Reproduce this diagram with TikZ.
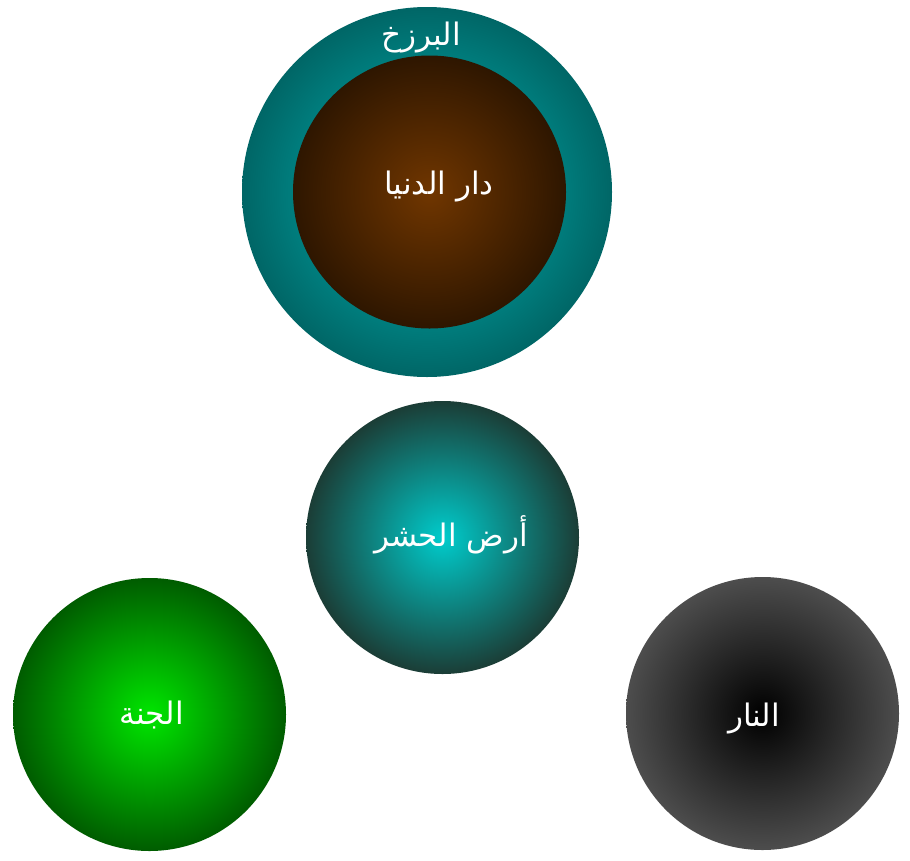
\documentclass[tikz,border=0pt]{standalone}
\usepackage{fontspec}
\newfontfamily\arabicfont[Script=Arabic]{DejaVu Sans}
\TeXXeTstate=1
\definecolor{tealin}{HTML}{00BABA}
\definecolor{tealout}{HTML}{006666}
\definecolor{brownin}{HTML}{703600}
\definecolor{brownout}{HTML}{2E1600}
\definecolor{hashrin}{HTML}{00CCCC}
\definecolor{hashrout}{HTML}{1B3D36}
\definecolor{greenin}{HTML}{00E600}
\definecolor{greenout}{HTML}{005C00}
\definecolor{firein}{HTML}{000000}
\definecolor{fireout}{HTML}{4D4D4D}
\tikzset{
  ball/.style={circle, draw=none, minimum size=273pt, inner sep=0pt},
  lbl/.style={text=white, font=\arabicfont\fontsize{31}{36}\selectfont, inner sep=0pt}
}
\begin{document}
\begin{tikzpicture}[x=1pt,y=-1pt]
\useasboundingbox (0,0) rectangle (910,860);
\node[ball, minimum size=370pt, inner color=tealin, outer color=tealout] (barzakh) at (427,192) {};
\node[ball, inner color=brownin, outer color=brownout] (dunya) at (429.5,192) {};
\node[ball, inner color=hashrin, outer color=hashrout] (hashr) at (442.5,537.5) {};
\node[ball, inner color=greenin, outer color=greenout] (janna) at (149.5,714.5) {};
\node[ball, inner color=firein, outer color=fireout] (nar) at (762.5,713.5) {};
\node[lbl] (tbarzakh) at (421,38) {\beginR البرزخ\endR};
\node[lbl] (tdunya) at (439,187) {\beginR دار الدنيا\endR};
\node[lbl] (thashr) at (451,535) {\beginR أرض الحشر\endR};
\node[lbl] (tjanna) at (152,715) {\beginR الجنة\endR};
\node[lbl] (tnar) at (754,718) {\beginR النار\endR};
\end{tikzpicture}
\end{document}
